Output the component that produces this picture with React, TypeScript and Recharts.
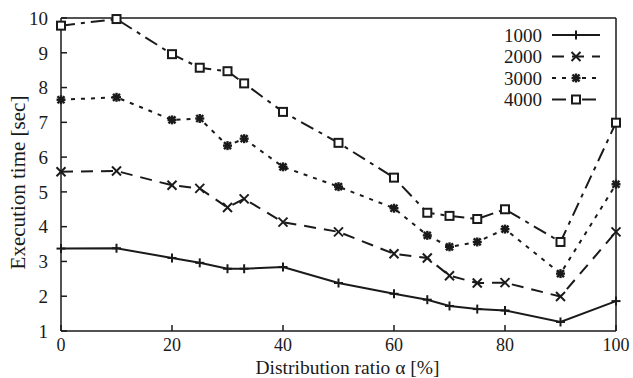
import { LineChart, Line, XAxis, YAxis, ReferenceLine } from 'recharts';

// distribution ratio α [%]
const ratios = [0, 10, 20, 25, 30, 33, 40, 50, 60, 66, 70, 75, 80, 90, 100];

// execution time [sec] per problem size
const t1000 = [3.37, 3.38, 3.1, 2.96, 2.79, 2.79, 2.84, 2.38, 2.07, 1.9, 1.72, 1.63, 1.59, 1.26, 1.86];
const t2000 = [5.58, 5.6, 5.19, 5.1, 4.55, 4.8, 4.13, 3.85, 3.22, 3.1, 2.59, 2.38, 2.39, 1.99, 3.85];
const t3000 = [7.65, 7.72, 7.07, 7.11, 6.33, 6.53, 5.72, 5.15, 4.53, 3.75, 3.42, 3.56, 3.93, 2.65, 5.22];
const t4000 = [9.78, 9.97, 8.96, 8.57, 8.47, 8.12, 7.3, 6.41, 5.41, 4.4, 4.31, 4.22, 4.5, 3.56, 6.99];

const xTicks = [0, 20, 40, 60, 80, 100];
const yTicks = [1, 2, 3, 4, 5, 6, 7, 8, 9, 10];

const INK = '#1a1a1a';
const FONT = 'Liberation Serif, DejaVu Serif, Times New Roman, serif';

const data = ratios.map((x, i) => ({
  x,
  s1000: t1000[i],
  s2000: t2000[i],
  s3000: t3000[i],
  s4000: t4000[i],
}));

type Marker = 'plus' | 'cross' | 'star' | 'square';

function drawMarker(kind: Marker, cx: number, cy: number, key?: string) {
  const r = 4.5;
  if (kind === 'plus') {
    return (
      <g key={key} stroke={INK} strokeWidth={2}>
        <line x1={cx - r} y1={cy} x2={cx + r} y2={cy} />
        <line x1={cx} y1={cy - r} x2={cx} y2={cy + r} />
      </g>
    );
  }
  if (kind === 'cross') {
    return (
      <g key={key} stroke={INK} strokeWidth={2}>
        <line x1={cx - r} y1={cy - r} x2={cx + r} y2={cy + r} />
        <line x1={cx - r} y1={cy + r} x2={cx + r} y2={cy - r} />
      </g>
    );
  }
  if (kind === 'star') {
    return (
      <g key={key} stroke={INK} strokeWidth={2.4}>
        <line x1={cx - r} y1={cy} x2={cx + r} y2={cy} />
        <line x1={cx} y1={cy - r} x2={cx} y2={cy + r} />
        <line x1={cx - 3.5} y1={cy - 3.5} x2={cx + 3.5} y2={cy + 3.5} />
        <line x1={cx - 3.5} y1={cy + 3.5} x2={cx + 3.5} y2={cy - 3.5} />
      </g>
    );
  }
  return (
    <rect key={key} x={cx - 4} y={cy - 4} width={8} height={8} fill="#fff" stroke={INK} strokeWidth={2} />
  );
}

const series: { key: string; name: string; dash?: string; marker: Marker }[] = [
  { key: 's1000', name: '1000', marker: 'plus' },
  { key: 's2000', name: '2000', dash: '12 8', marker: 'cross' },
  { key: 's3000', name: '3000', dash: '4 6', marker: 'star' },
  { key: 's4000', name: '4000', dash: '14 6 4 6', marker: 'square' },
];

function LegendBox() {
  return (
    <svg width={110} height={90} style={{ position: 'absolute', left: 495, top: 24 }}>
      {series.map((s, i) => {
        const y = 11 + i * 21.5;
        return (
          <g key={s.key}>
            <text x={47} y={y + 6.5} textAnchor="end" fontSize={19} fontFamily={FONT} fill={INK}>
              {s.name}
            </text>
            <line x1={57} y1={y} x2={105} y2={y} stroke={INK} strokeWidth={2} strokeDasharray={s.dash} />
            {drawMarker(s.marker, 81, y)}
          </g>
        );
      })}
    </svg>
  );
}

export default function App() {
  return (
    <div style={{ position: 'absolute', left: 0, top: 0, width: 633, height: 378, background: '#fff', fontFamily: FONT }}>
      <LineChart width={633} height={378} data={data} margin={{ top: 18, right: 16, bottom: 15, left: 14 }}>
        <XAxis
          dataKey="x"
          type="number"
          domain={[0, 100]}
          ticks={xTicks}
          interval={0}
          height={32}
          tickSize={-6}
          tickMargin={13}
          stroke={INK}
          strokeWidth={1.5}
          tick={{ fill: INK, fontSize: 18, fontFamily: FONT }}
          label={{
            content: ({ viewBox }: any) => (
              <text
                x={viewBox.x + viewBox.width / 2 + 9}
                y={373.5}
                textAnchor="middle"
                fontSize={19.5}
                fontFamily={FONT}
                fill={INK}
              >
                Distribution ratio α [%]
              </text>
            ),
          }}
        />
        <YAxis
          type="number"
          domain={[1, 10]}
          ticks={yTicks}
          interval={0}
          width={47}
          tickSize={-6}
          tickMargin={19}
          stroke={INK}
          strokeWidth={1.5}
          tick={{ fill: INK, fontSize: 19, fontFamily: FONT }}
          label={{
            content: ({ viewBox }: any) => (
              <text
                x={25}
                y={viewBox.y + viewBox.height / 2 + 8}
                transform={`rotate(-90 25 ${viewBox.y + viewBox.height / 2 + 8})`}
                textAnchor="middle"
                fontSize={21}
                fontFamily={FONT}
                fill={INK}
              >
                Execution time [sec]
              </text>
            ),
          }}
        />
        <YAxis
          yAxisId="r"
          orientation="right"
          type="number"
          domain={[1, 10]}
          ticks={yTicks}
          interval={0}
          width={1}
          tickSize={-6}
          stroke={INK}
          strokeWidth={1.5}
          tickFormatter={() => ''}
        />
        <ReferenceLine y={10} stroke={INK} strokeWidth={1.5} />
        {series.map((s) => (
          <Line
            key={s.key}
            dataKey={s.key}
            name={s.name}
            stroke={INK}
            strokeWidth={2}
            strokeDasharray={s.dash}
            isAnimationActive={false}
            dot={(p: any) => drawMarker(s.marker, p.cx, p.cy, `${s.key}-${p.index}`)}
            activeDot={false}
          />
        ))}
      </LineChart>
      <LegendBox />
    </div>
  );
}
